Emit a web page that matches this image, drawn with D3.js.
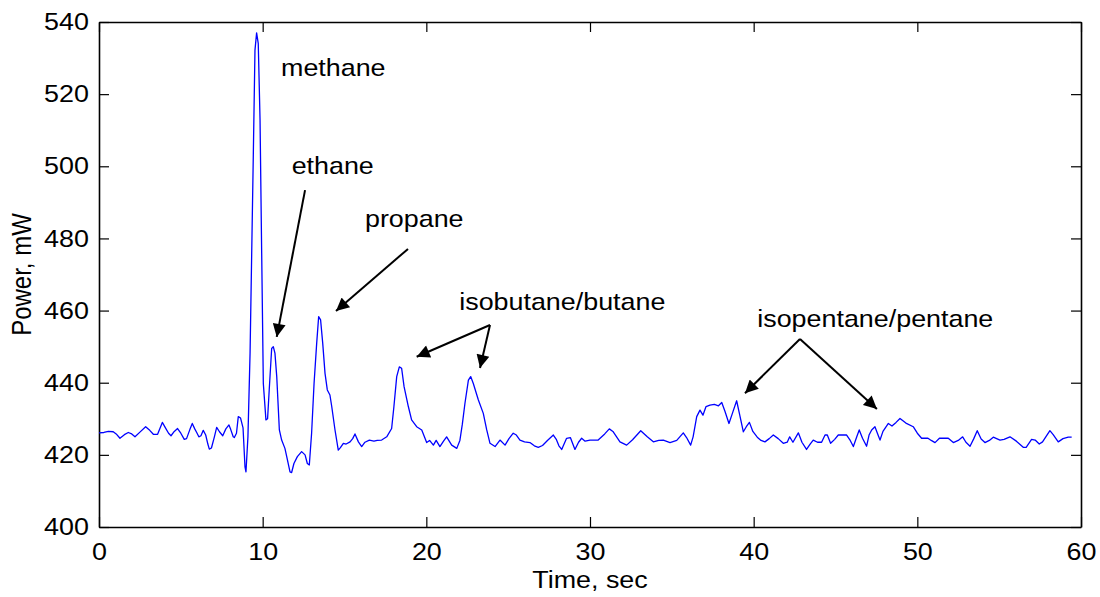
<html>
<head>
  <script src="https://d3js.org/d3.v7.min.js"></script>
  <style>
    body { margin: 0; background: #fff; }
    text { font-family: "Liberation Sans", Arial, sans-serif; fill: #000; }
  </style>
</head>
<body>
<svg id="chart" width="1100" height="597"></svg>
<script>

// time (sec) and power (mW)
const timeSec = [0.00,0.30,0.57,0.87,1.05,1.28,1.55,1.79,2.00,2.20,2.50,2.85,3.10,3.32,3.58,3.87,4.06,4.25,4.40,4.60,4.80,5.00,5.21,5.35,5.55,5.70,5.85,5.97,6.10,6.23,6.37,6.52,6.65,6.74,6.87,7.05,7.19,7.36,7.56,7.75,7.94,8.05,8.20,8.27,8.40,8.51,8.65,8.80,8.92,8.98,9.10,9.23,9.43,9.53,9.63,9.73,9.84,9.94,10.04,10.20,10.30,10.40,10.55,10.65,10.75,10.86,11.02,11.16,11.36,11.47,11.67,11.77,11.91,12.12,12.38,12.59,12.73,12.85,12.99,13.14,13.30,13.42,13.54,13.67,13.81,13.95,14.11,14.22,14.42,14.62,14.75,14.93,15.10,15.34,15.50,15.64,15.85,16.05,16.25,16.52,16.80,17.00,17.27,17.58,17.88,18.02,18.19,18.35,18.49,18.64,18.90,19.10,19.41,19.72,20.02,20.20,20.43,20.60,20.83,21.05,21.24,21.55,21.86,22.05,22.20,22.36,22.57,22.71,22.87,23.18,23.48,23.69,23.89,24.20,24.50,24.81,25.05,25.31,25.50,25.72,26.00,26.33,26.60,26.84,27.10,27.40,27.76,27.95,28.10,28.27,28.57,28.80,29.08,29.30,29.49,29.70,30.00,30.50,30.90,31.18,31.40,31.83,32.24,32.60,33.10,33.50,33.87,34.20,34.48,34.89,35.30,35.70,35.90,36.15,36.30,36.52,36.72,36.90,37.09,37.33,37.60,37.85,38.05,38.25,38.49,38.70,38.96,39.15,39.37,39.55,39.74,39.95,40.22,40.45,40.69,40.95,41.20,41.50,41.81,42.05,42.20,42.40,42.73,42.95,43.23,43.45,43.64,43.90,44.15,44.36,44.50,44.70,44.95,45.17,45.45,45.68,45.90,46.09,46.30,46.45,46.65,46.90,47.05,47.21,47.41,47.60,47.72,47.90,48.23,48.45,48.70,48.94,49.30,49.75,50.00,50.26,50.65,50.85,51.08,51.35,51.89,52.20,52.50,52.77,52.97,53.22,53.45,53.66,53.90,54.13,54.40,54.64,55.05,55.30,55.66,56.05,56.47,56.65,56.98,57.20,57.45,57.65,58.10,58.30,58.61,58.90,59.22,59.43];

const powerMw = [426.1,426.2,426.5,426.4,425.8,424.6,425.6,426.2,425.8,425.0,426.3,427.8,426.8,425.7,425.7,429.0,427.5,426.0,425.3,426.5,427.3,426.0,424.3,424.5,427.0,428.7,427.2,426.2,425.0,425.3,426.8,425.5,423.0,421.6,421.9,425.0,427.6,426.4,425.3,427.2,428.3,427.0,425.0,424.8,426.0,430.6,430.2,427.5,416.7,415.3,425.0,448.2,503.6,532.2,537.0,534.1,512.8,475.9,439.8,429.7,430.0,438.0,449.5,450.0,448.2,441.7,426.9,424.1,421.8,419.5,415.3,415.1,417.6,419.5,420.9,420.0,417.6,417.2,426.0,439.8,450.9,458.3,457.4,450.9,442.6,438.0,436.6,433.4,426.9,421.3,422.0,423.2,423.0,423.6,424.5,425.8,423.6,422.3,423.5,424.1,423.8,424.0,424.1,425.0,427.3,433.4,441.7,444.4,444.0,438.9,433.4,429.7,427.8,426.9,423.4,424.0,422.7,424.0,422.3,423.8,425.0,422.7,421.8,424.0,428.5,434.3,440.7,441.7,439.8,435.2,431.5,426.9,423.2,422.3,424.1,422.7,424.5,426.0,425.5,424.1,423.6,423.4,422.5,422.1,422.6,424.0,425.5,424.2,422.5,421.5,424.6,424.8,421.5,423.5,424.6,423.8,424.1,424.1,425.8,427.2,426.5,423.6,422.7,424.2,426.7,425.0,423.6,424.0,424.1,423.4,424.0,426.1,424.8,422.7,425.0,430.6,432.4,431.0,433.4,433.8,434.0,433.6,434.5,432.0,428.7,431.5,435.0,431.0,426.4,427.8,429.0,426.5,424.9,424.0,423.6,424.5,425.5,424.5,423.2,423.5,425.0,423.5,426.1,423.5,421.5,423.0,424.1,423.5,423.5,425.5,425.5,423.2,424.3,425.5,425.5,425.5,424.0,422.3,425.0,426.9,424.6,422.4,425.5,426.9,427.8,425.5,424.1,426.5,428.7,428.0,429.0,430.1,428.8,427.8,426.0,424.6,424.6,424.0,423.4,424.6,424.6,423.4,424.0,425.0,423.5,422.4,424.5,426.7,424.4,423.4,424.0,424.9,424.1,424.3,425.0,423.8,422.1,422.1,424.3,424.1,423.0,423.6,426.7,425.6,423.6,424.5,424.9,424.9];

const xTicks = [0, 10, 20, 30, 40, 50, 60];
const yTicks = [400, 420, 440, 460, 480, 500, 520, 540];

// peak labels: text, time, power at baseline
const labelNames = ["methane", "ethane", "propane", "isobutane/butane", "isopentane/pentane"];
const labelTime = [11.12, 11.77, 16.25, 22.01, 40.22];
const labelPower = [525.0, 498.0, 483.2, 460.2, 455.4];

// arrows: start (t, p) -> tip (t, p)
const arrowFromT = [12.59, 18.88, 23.89, 23.89, 42.83, 42.83];
const arrowFromP = [493.4, 477.1, 456.0, 456.0, 452.1, 452.1];
const arrowToT = [10.86, 14.48, 19.41, 23.28, 39.47, 47.53];
const arrowToP = [452.7, 459.9, 447.2, 444.1, 437.1, 432.7];

const svg = d3.select("#chart");
const margin = { top: 22, right: 19, bottom: 70, left: 99 };
const width = 1100 - margin.left - margin.right;
const height = 597 - margin.top - margin.bottom;

const g = svg.append("g")
  .attr("transform", "translate(" + margin.left + "," + margin.top + ")");

const x = d3.scaleLinear().domain([0, 60]).range([0, width]);
const y = d3.scaleLinear().domain([400, 540]).range([height, 0]);

// the original figure is a bit stretched sideways, so text gets widened too
const fontSize = 24;
const stretch = 1.12;

// axes, ticks pointing inward
g.append("g")
  .attr("transform", "translate(0," + height + ")")
  .call(d3.axisBottom(x).tickValues(xTicks).tickSize(-10).tickSizeOuter(0).tickPadding(16));
g.append("g")
  .call(d3.axisLeft(y).tickValues(yTicks).tickSize(-10).tickSizeOuter(0).tickPadding(9));
g.append("g")
  .call(d3.axisTop(x).tickValues(xTicks).tickSize(-10).tickSizeOuter(0).tickFormat(""));
g.append("g")
  .attr("transform", "translate(" + width + ",0)")
  .call(d3.axisRight(y).tickValues(yTicks).tickSize(-10).tickSizeOuter(0).tickFormat(""));

g.selectAll(".domain").attr("stroke", "#000").attr("stroke-width", 1.6);
g.selectAll(".tick line").attr("stroke", "#000").attr("stroke-width", 1.2);
g.selectAll(".tick text")
  .style("font-family", '"Liberation Sans", Arial, sans-serif')
  .style("font-size", fontSize + "px")
  .attr("fill", "#000")
  .attr("transform", "scale(" + stretch + ",1)");

// trace
const data = timeSec.map((t, i) => ({ t: t, p: powerMw[i] }));
const line = d3.line().x(d => x(d.t)).y(d => y(d.p));

g.append("path")
  .datum(data)
  .attr("fill", "none")
  .attr("stroke", "#0000ff")
  .attr("stroke-width", 1.3)
  .attr("stroke-linejoin", "round")
  .attr("d", line);

// labels
g.selectAll(".peak-label")
  .data(labelNames)
  .join("text")
  .attr("class", "peak-label")
  .attr("transform", (d, i) => "translate(" + x(labelTime[i]) + "," + y(labelPower[i]) + ") scale(" + stretch + ",1)")
  .style("font-size", fontSize + "px")
  .text(d => d);

// arrows
svg.append("defs").append("marker")
  .attr("id", "head")
  .attr("viewBox", "0 0 10 10")
  .attr("refX", 10)
  .attr("refY", 5)
  .attr("markerUnits", "userSpaceOnUse")
  .attr("markerWidth", 17)
  .attr("markerHeight", 13)
  .attr("orient", "auto")
  .append("path")
  .attr("d", "M0,0L10,5L0,10Z")
  .attr("fill", "#000");

g.selectAll(".arrow")
  .data(arrowFromT)
  .join("line")
  .attr("class", "arrow")
  .attr("x1", (d, i) => x(arrowFromT[i]))
  .attr("y1", (d, i) => y(arrowFromP[i]))
  .attr("x2", (d, i) => x(arrowToT[i]))
  .attr("y2", (d, i) => y(arrowToP[i]))
  .attr("stroke", "#000")
  .attr("stroke-width", 2)
  .attr("marker-end", "url(#head)");

// axis titles
svg.append("text")
  .attr("transform", "translate(" + (margin.left + width / 2) + ",588) scale(" + stretch + ",1)")
  .attr("text-anchor", "middle")
  .style("font-size", fontSize + "px")
  .text("Time, sec");

svg.append("text")
  .attr("transform", "translate(31," + (margin.top + height / 2) + ") rotate(-90) scale(1," + stretch + ")")
  .attr("text-anchor", "middle")
  .style("font-size", fontSize + "px")
  .text("Power, mW");

</script>
</body>
</html>
